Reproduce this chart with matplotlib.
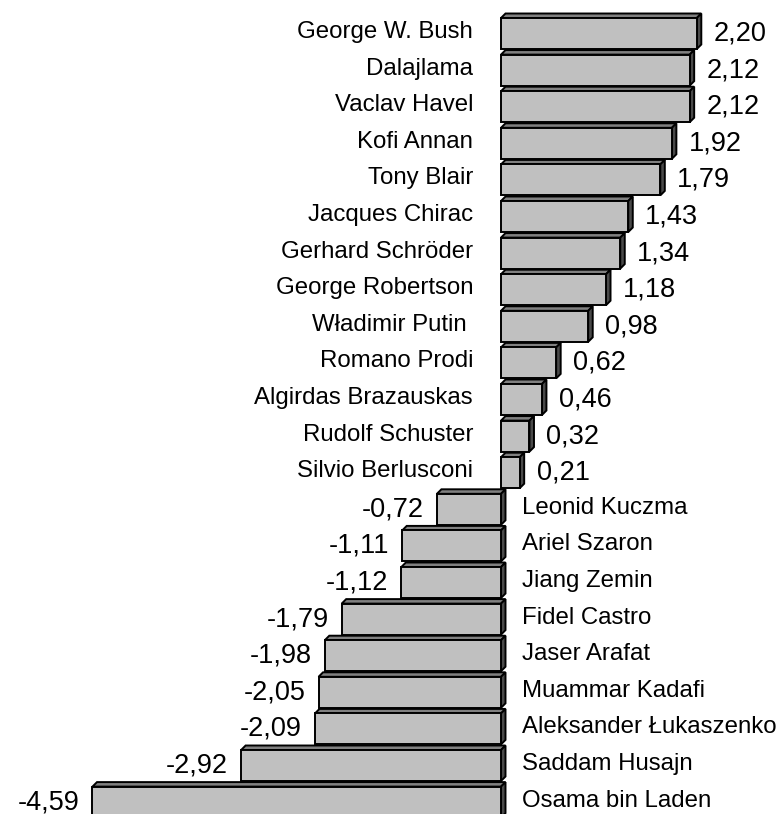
import matplotlib
matplotlib.use("Agg")
import matplotlib.pyplot as plt
from matplotlib.patches import Polygon

names = ["George W. Bush", "Dalajlama", "Vaclav Havel", "Kofi Annan", "Tony Blair",
         "Jacques Chirac", "Gerhard Schröder", "George Robertson", "Władimir Putin ",
         "Romano Prodi", "Algirdas Brazauskas", "Rudolf Schuster", "Silvio Berlusconi",
         "Leonid Kuczma", "Ariel Szaron", "Jiang Zemin", "Fidel Castro", "Jaser Arafat",
         "Muammar Kadafi", "Aleksander Łukaszenko", "Saddam Husajn", "Osama bin Laden"]
values = [2.20, 2.12, 2.12, 1.92, 1.79, 1.43, 1.34, 1.18, 0.98, 0.62, 0.46, 0.32, 0.21,
          -0.72, -1.11, -1.12, -1.79, -1.98, -2.05, -2.09, -2.92, -4.59]
value_labels = [f"{v:.2f}".replace(".", ",") for v in values]

plt.rcParams['font.family'] = ['Liberation Sans', 'DejaVu Sans']

W, H, DPI = 780, 814, 100
fig = plt.figure(figsize=(W / DPI, H / DPI), dpi=DPI)
ax = fig.add_axes([0, 0, 1, 1])

px_x = 89.0      # pixels per unit
zero_px = 501.0
pitch = 36.6     # pixels per row
first_center = 33.5
ax.set_xlim(-zero_px / px_x, (W - zero_px) / px_x)
ax.set_ylim((H - first_center) / pitch, -first_center / pitch)
ax.axis('off')

bar_h = 31 / pitch
dx = 4.5 / px_x
dy = 4.5 / pitch
ypos = list(range(len(values)))

front = "#c0c0c0"
topc = "#808080"
sidec = "#4a4a4a"
lw = 1.4

ax.barh(ypos, values, height=bar_h, color=front, edgecolor="black", linewidth=lw, zorder=3)

for i, v in zip(ypos, values):
    x0, x1 = min(0, v), max(0, v)
    yt = i - bar_h / 2
    yb = i + bar_h / 2
    top = Polygon([(x0, yt), (x1, yt), (x1 + dx, yt - dy), (x0 + dx, yt - dy)],
                  closed=True, facecolor=topc, edgecolor="black", linewidth=lw, zorder=2)
    side = Polygon([(x1, yt), (x1 + dx, yt - dy), (x1 + dx, yb - dy), (x1, yb)],
                   closed=True, facecolor=sidec, edgecolor="black", linewidth=lw, zorder=2)
    ax.add_patch(top)
    ax.add_patch(side)

name_fs = 17.3
val_fs = 19.5
name_gap_left = 28 / px_x
name_gap_right = 21 / px_x
val_gap_pos = 17 / px_x
val_gap_neg = 13 / px_x
ytxt_name = -1.5 / pitch
ytxt_val = 0.0

for i, (n, v, lab) in enumerate(zip(names, values, value_labels)):
    if v >= 0:
        ax.text(-name_gap_left, i + ytxt_name, n, ha="right", va="center", fontsize=name_fs)
        ax.text(v + val_gap_pos, i + ytxt_val, lab, ha="left", va="center", fontsize=val_fs)
    else:
        ax.text(name_gap_right, i + ytxt_name, n, ha="left", va="center", fontsize=name_fs)
        ax.text(v - val_gap_neg, i + ytxt_val, lab, ha="right", va="center", fontsize=val_fs)

fig.savefig("out.png", dpi=DPI)
